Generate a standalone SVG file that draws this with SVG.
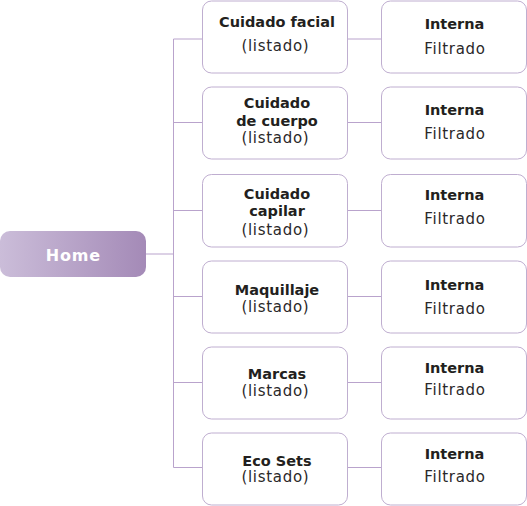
<svg xmlns="http://www.w3.org/2000/svg" width="527" height="506" viewBox="0 0 527 506">
<defs>
<linearGradient id="homeGrad" x1="0" y1="0" x2="1" y2="0">
<stop offset="0" stop-color="#cbbdd9"/>
<stop offset="1" stop-color="#a48ab7"/>
</linearGradient>
</defs>
<style>
.box{fill:#ffffff;stroke:#bfaed0;stroke-width:1}
.b{font-family:"DejaVu Sans",sans-serif;font-weight:bold;font-size:14.5px;fill:#231f20;text-anchor:middle}
.r{font-family:"DejaVu Sans",sans-serif;font-size:15px;fill:#2b2829;text-anchor:middle;letter-spacing:0.7px}
.home{font-family:"DejaVu Sans",sans-serif;font-weight:bold;font-size:16px;fill:#ffffff;text-anchor:middle;letter-spacing:0.8px}
.ln{fill:none;stroke:#b9a3cc;stroke-width:1}
</style>
<rect width="527" height="506" fill="#ffffff"/>
<g id="connectors">
<line class="ln" x1="146" y1="254" x2="173.5" y2="254"/>
<line class="ln" x1="173.5" y1="39" x2="173.5" y2="467.5"/>
<line class="ln" x1="173.5" y1="39" x2="202.5" y2="39"/>
<line class="ln" x1="173.5" y1="122.5" x2="202.5" y2="122.5"/>
<line class="ln" x1="173.5" y1="210.5" x2="202.5" y2="210.5"/>
<line class="ln" x1="173.5" y1="296.5" x2="202.5" y2="296.5"/>
<line class="ln" x1="173.5" y1="382.5" x2="202.5" y2="382.5"/>
<line class="ln" x1="173.5" y1="467.5" x2="202.5" y2="467.5"/>
<line class="ln" x1="347.5" y1="39" x2="381.5" y2="39"/>
<line class="ln" x1="347.5" y1="122.5" x2="381.5" y2="122.5"/>
<line class="ln" x1="347.5" y1="210.5" x2="381.5" y2="210.5"/>
<line class="ln" x1="347.5" y1="296.5" x2="381.5" y2="296.5"/>
<line class="ln" x1="347.5" y1="382.5" x2="381.5" y2="382.5"/>
<line class="ln" x1="347.5" y1="467.5" x2="381.5" y2="467.5"/>
</g>
<g id="home">
<rect x="0" y="231" width="146" height="46" rx="10" fill="url(#homeGrad)"/>
<text class="home" x="73.4" y="261">Home</text>
</g>
<g id="cuidado-facial">
<rect class="box" x="202.5" y="1" width="145" height="72" rx="9"/>
<text class="b" x="277" y="27">Cuidado facial</text>
<text class="r" x="275.4" y="51">(listado)</text>
</g>
<g id="interna-1">
<rect class="box" x="381.5" y="1" width="145" height="72" rx="9"/>
<text class="b" x="454.5" y="29">Interna</text>
<text class="r" x="455" y="54">Filtrado</text>
</g>
<g id="cuidado-cuerpo">
<rect class="box" x="202.5" y="87" width="145" height="72" rx="9"/>
<text class="b" x="277" y="108">Cuidado</text>
<text class="b" x="277" y="125.5">de cuerpo</text>
<text class="r" x="275.4" y="143">(listado)</text>
</g>
<g id="interna-2">
<rect class="box" x="381.5" y="87" width="145" height="72" rx="9"/>
<text class="b" x="454.5" y="115">Interna</text>
<text class="r" x="455" y="139">Filtrado</text>
</g>
<g id="cuidado-capilar">
<rect class="box" x="202.5" y="174.5" width="145" height="72.5" rx="9"/>
<text class="b" x="277" y="199">Cuidado</text>
<text class="b" x="277" y="216">capilar</text>
<text class="r" x="275.4" y="235">(listado)</text>
</g>
<g id="interna-3">
<rect class="box" x="381.5" y="174.5" width="145" height="72.5" rx="9"/>
<text class="b" x="454.5" y="200">Interna</text>
<text class="r" x="455" y="224">Filtrado</text>
</g>
<g id="maquillaje">
<rect class="box" x="202.5" y="261" width="145" height="72" rx="9"/>
<text class="b" x="277" y="295">Maquillaje</text>
<text class="r" x="275.4" y="311.5">(listado)</text>
</g>
<g id="interna-4">
<rect class="box" x="381.5" y="261" width="145" height="72" rx="9"/>
<text class="b" x="454.5" y="290">Interna</text>
<text class="r" x="455" y="314">Filtrado</text>
</g>
<g id="marcas">
<rect class="box" x="202.5" y="347" width="145" height="72" rx="9"/>
<text class="b" x="277" y="379">Marcas</text>
<text class="r" x="275.4" y="396">(listado)</text>
</g>
<g id="interna-5">
<rect class="box" x="381.5" y="347" width="145" height="72" rx="9"/>
<text class="b" x="454.5" y="373">Interna</text>
<text class="r" x="455" y="395">Filtrado</text>
</g>
<g id="eco-sets">
<rect class="box" x="202.5" y="433" width="145" height="72" rx="9"/>
<text class="b" x="277" y="466">Eco Sets</text>
<text class="r" x="275.4" y="482">(listado)</text>
</g>
<g id="interna-6">
<rect class="box" x="381.5" y="433" width="145" height="72" rx="9"/>
<text class="b" x="454.5" y="459">Interna</text>
<text class="r" x="455" y="482">Filtrado</text>
</g>
</svg>
